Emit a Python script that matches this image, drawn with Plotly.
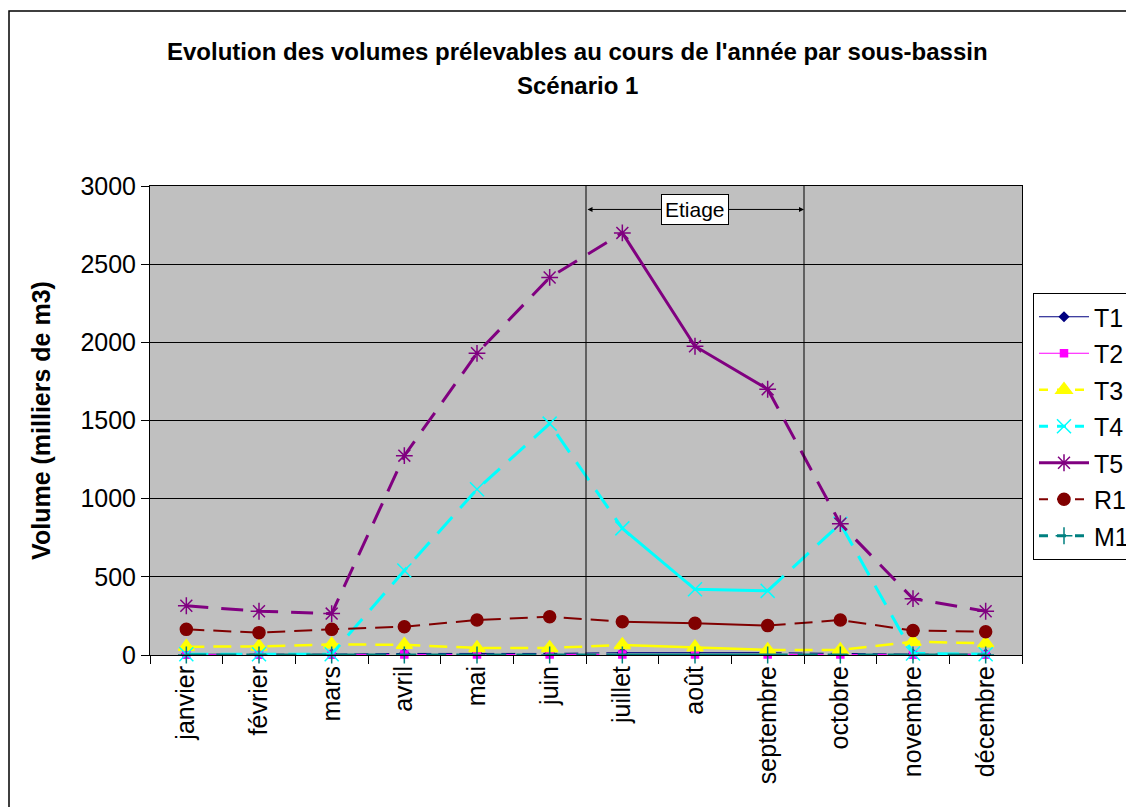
import plotly.graph_objects as go

months = ["janvier", "février", "mars", "avril", "mai", "juin", "juillet",
          "août", "septembre", "octobre", "novembre", "décembre"]

T1 = [5, 5, 5, 10, 10, 10, 15, 15, 15, 10, 5, 5]
T2 = [2, 2, 2, 3, 3, 3, 3, 3, 3, 3, 2, 2]
T3 = [53, 55, 68, 65, 45, 45, 64, 49, 32, 32, 85, 75]
T4 = [5, 5, 5, 540, 1060, 1480, 810, 420, 410, 840, 10, 5]
T5 = [315, 280, 265, 1275, 1930, 2415, 2700, 1975, 1700, 840, 360, 280]
R1 = [164, 143, 164, 181, 224, 245, 213, 203, 188, 224, 156, 149]
M1 = [0, 0, 0, 0, 0, 0, 0, 0, 0, 0, 0, 0]

series = [
    ("T1", T1, "#000080", "diamond", 7, 1, "solid", "14px,7px"),
    ("T2", T2, "#FF00FF", "square", 7, 1, "solid", "14px,7px"),
    ("T3", T3, "#FFFF00", "triangle-up", 14, 2.5, "dash", "18px,9px"),
    ("T4", T4, "#00FFFF", "x-thin-open", 14, 3, "dash", "22px,12px"),
    ("T5", T5, "#800080", "asterisk-open", 14, 3, "solid", "22px,13px"),
    ("R1", R1, "#800000", "circle", 12, 2, "dash", "18px,9px"),
    ("M1", M1, "#008080", "cross-thin-open", 12, 3, "dash", "20px,10px"),
]

etiage_start, etiage_end = 6, 8  # juillet .. septembre (solid segments)

# page offset (browser body margin)
OFF = 8
PL, PR, PT, PB = 150, 1022, 186, 655  # plot area in page pixels
PW, PH = PR - PL, PB - PT


def px(xp):
    return (xp - PL) / PW


def py(yp):
    return (PB - yp) / PH


fig = go.Figure()
for name, vals, color, sym, msize, lw, legdash, dpat in series:
    dashed_y = [v if i != 7 else None for i, v in enumerate(vals)]
    fig.add_trace(go.Scatter(
        x=months, y=dashed_y, mode="lines", connectgaps=False,
        line=dict(color=color, width=lw, dash=dpat),
        showlegend=False, hoverinfo="skip", legendgroup=name))
    fig.add_trace(go.Scatter(
        x=months[etiage_start:etiage_end + 1], y=vals[etiage_start:etiage_end + 1],
        mode="lines", line=dict(color=color, width=lw),
        showlegend=False, hoverinfo="skip", legendgroup=name))
    fig.add_trace(go.Scatter(
        x=months, y=vals, mode="markers", cliponaxis=False,
        marker=dict(symbol=sym, size=msize, color=color,
                    line=dict(color=color, width=1.5)),
        showlegend=False, name=name, legendgroup=name))
    fig.add_trace(go.Scatter(
        x=[None], y=[None], mode="lines+markers", name=name, legendgroup=name,
        line=dict(color=color, width=lw, dash=legdash),
        marker=dict(symbol=sym, size=msize, color=color,
                    line=dict(color=color, width=1.5)),
        showlegend=True))

# Vertical lines delimiting the low-water period
for xv in [5.5, 8.5]:
    fig.add_shape(type="line", xref="x", yref="y", x0=xv, x1=xv, y0=0, y1=3000,
                  line=dict(color="black", width=1))

# Double arrow + label "Etiage"
fig.add_annotation(x=8.5, y=2850, ax=5.5, ay=2850, xref="x", yref="y",
                   axref="x", ayref="y", text="", showarrow=True,
                   arrowhead=2, arrowside="end+start", arrowsize=1,
                   arrowwidth=1, arrowcolor="black")
fig.add_annotation(x=7, y=2850, xref="x", yref="y", text="Etiage",
                   showarrow=False, bgcolor="white", bordercolor="black",
                   borderwidth=1, borderpad=3,
                   font=dict(size=21, color="black", family="Liberation Sans"))

# Title
fig.add_annotation(x=px(577), y=py(52), xref="paper", yref="paper",
                   text="<b>Evolution des volumes prélevables au cours de l'année par sous-bassin</b>",
                   showarrow=False, xanchor="center", yanchor="middle",
                   font=dict(size=24, color="black", family="Liberation Sans"))
fig.add_annotation(x=px(577), y=py(85), xref="paper", yref="paper",
                   text="<b>Scénario 1</b>",
                   showarrow=False, xanchor="center", yanchor="middle",
                   font=dict(size=24, color="black", family="Liberation Sans"))

# Outer chart border
fig.add_shape(type="rect", xref="paper", yref="paper",
              x0=px(9), x1=px(1200), y0=py(900), y1=py(11),
              line=dict(color="black", width=1.5), layer="below")

W, H = 1134 - OFF, 807 - OFF
fig.update_layout(
    width=W, height=H,
    margin=dict(l=PL - OFF, r=W - (PR - OFF), t=PT - OFF, b=H - (PB - OFF),
                autoexpand=False),
    paper_bgcolor="white", plot_bgcolor="#C0C0C0",
    font=dict(family="Liberation Sans", size=25, color="black"),
    legend=dict(x=px(1033), y=py(293), xanchor="left",
                yanchor="top", bgcolor="white", bordercolor="black",
                borderwidth=1, font=dict(size=25), tracegroupgap=1,
                itemwidth=50),
    xaxis=dict(type="category", range=[-0.5, 11.5], tickangle=-90,
               ticks="outside", ticklen=8, tickcolor="black",
               tickson="boundaries", showgrid=False, showline=True,
               linecolor="black", mirror=True, tickfont=dict(size=25),
               automargin=False),
    yaxis=dict(range=[0, 3000], dtick=500, ticks="outside", ticklen=8,
               tickcolor="black", showgrid=True, gridcolor="black",
               gridwidth=1, showline=True, linecolor="black", mirror=True,
               zeroline=False, tickfont=dict(size=25), automargin=False,
               title=dict(text="<b>Volume (milliers de m3)</b>",
                          font=dict(size=25), standoff=22)),
)

fig.write_html("out.html")
